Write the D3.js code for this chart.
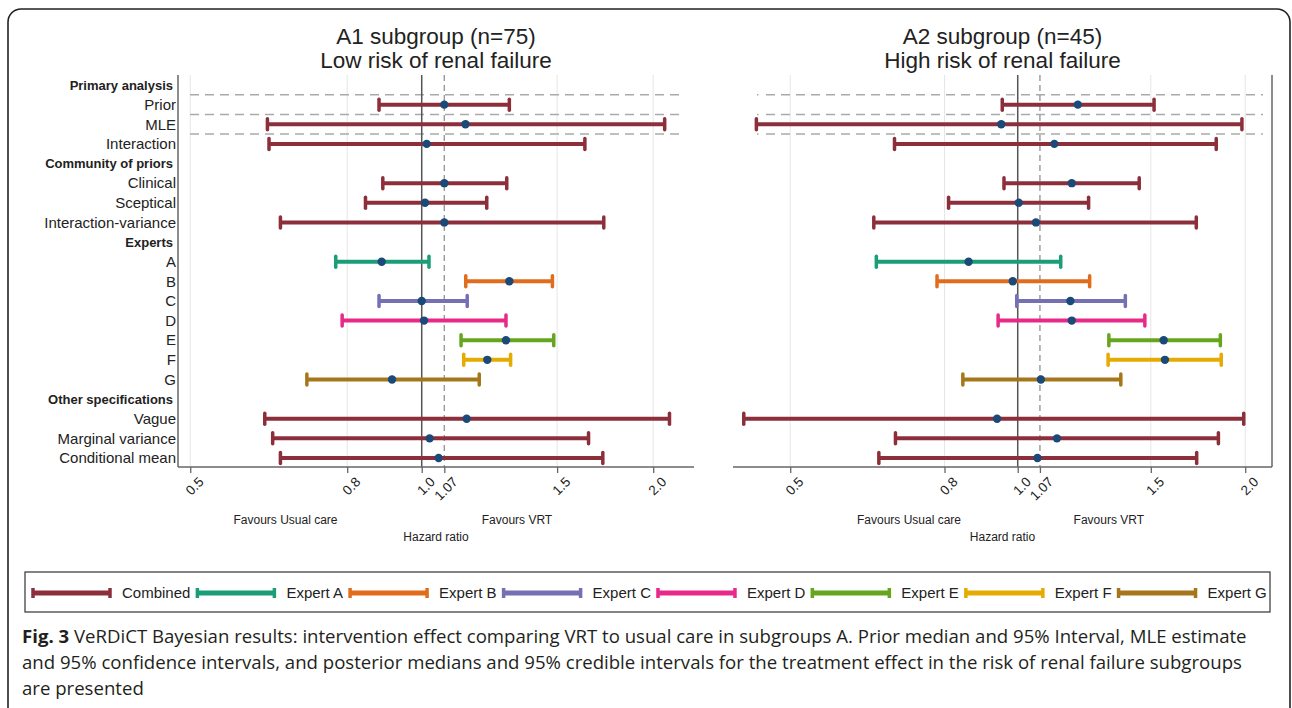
<!DOCTYPE html>
<html>
<head>
<meta charset="utf-8">
<script src="https://cdn.jsdelivr.net/npm/d3@7"></script>
<style>
  body { margin: 0; background: #fff; }
  svg text { font-family: 'Liberation Sans', Arial, sans-serif; fill: #222; }
</style>
</head>
<body>
<svg id="chart" width="1292" height="708"></svg>
<script>
// rows of the forest plot (headers are bold and carry no interval)
var rowLabels = ['Primary analysis', 'Prior', 'MLE', 'Interaction',
  'Community of priors', 'Clinical', 'Sceptical', 'Interaction-variance',
  'Experts', 'A', 'B', 'C', 'D', 'E', 'F', 'G',
  'Other specifications', 'Vague', 'Marginal variance', 'Conditional mean'];
var headerRows = ['Primary analysis', 'Community of priors', 'Experts', 'Other specifications'];

var estRows = ['Prior', 'MLE', 'Interaction', 'Clinical', 'Sceptical', 'Interaction-variance',
  'A', 'B', 'C', 'D', 'E', 'F', 'G', 'Vague', 'Marginal variance', 'Conditional mean'];
var estSeries = ['Combined', 'Combined', 'Combined', 'Combined', 'Combined', 'Combined',
  'Expert A', 'Expert B', 'Expert C', 'Expert D', 'Expert E', 'Expert F', 'Expert G',
  'Combined', 'Combined', 'Combined'];

// A1 subgroup (low risk) hazard ratios
var a1Lower  = [0.88, 0.63, 0.633, 0.89, 0.845, 0.655, 0.773, 1.141, 0.88, 0.788, 1.125, 1.134, 0.709, 0.625, 0.64, 0.655];
var a1Median = [1.07, 1.14, 1.015, 1.07, 1.01, 1.07, 0.887, 1.30, 1.00, 1.007, 1.287, 1.217, 0.915, 1.144, 1.024, 1.052];
var a1Upper  = [1.30, 2.07, 1.63, 1.29, 1.215, 1.725, 1.022, 1.479, 1.146, 1.287, 1.485, 1.305, 1.188, 2.10, 1.648, 1.72];

// A2 subgroup (high risk) hazard ratios
var a2Lower  = [0.954, 0.451, 0.687, 0.959, 0.81, 0.645, 0.65, 0.782, 0.997, 0.942, 1.32, 1.317, 0.846, 0.434, 0.689, 0.655];
var a2Median = [1.201, 0.951, 1.118, 1.179, 1.003, 1.057, 0.861, 0.985, 1.174, 1.179, 1.56, 1.566, 1.073, 0.939, 1.127, 1.062];
var a2Upper  = [1.515, 1.98, 1.831, 1.448, 1.241, 1.723, 1.14, 1.245, 1.388, 1.473, 1.854, 1.859, 1.369, 1.991, 1.843, 1.725];

var legendNames  = ['Combined', 'Expert A', 'Expert B', 'Expert C', 'Expert D', 'Expert E', 'Expert F', 'Expert G'];
var legendColors = ['#8c2f3b', '#1b9e77', '#e06c1c', '#7570b3', '#e7298a', '#66a61e', '#e6ab02', '#a6761d'];

var tickValues = [0.5, 0.8, 1.0, 1.07, 1.5, 2.0];
var tickLabels = ['0.5', '0.8', '1.0', '1.07', '1.5', '2.0'];
var gridValues = [0.5, 0.8, 1.5, 2.0];
var nullValue = 1.0, priorRef = 1.07;

var svg = d3.select('#chart');
var color = d3.scaleOrdinal().domain(legendNames).range(legendColors);

var plotTop = 75, plotBottom = 467;
var y = d3.scalePoint().domain(rowLabels).range([85, 458]);

// outer frame of the figure
svg.append('rect')
  .attr('x', 8).attr('y', 9)
  .attr('width', 1282).attr('height', 720)
  .attr('rx', 13)
  .style('fill', 'none').style('stroke', '#222').style('stroke-width', 1.6);

var panels = [
  { title: ['A1 subgroup (n=75)', 'Low risk of renal failure'], domain: [0.482, 2.26], range: [178, 694],
    lo: a1Lower, mid: a1Median, hi: a1Upper, favours: [0.665, 1.33], dashX: [190, 684], side: 'left' },
  { title: ['A2 subgroup (n=45)', 'High risk of renal failure'], domain: [0.42, 2.17], range: [733, 1272],
    lo: a2Lower, mid: a2Median, hi: a2Upper, favours: [0.718, 1.32], dashX: [757, 1263], side: 'right' }
];

panels.forEach(function(p) {
  var x = d3.scaleLog().domain(p.domain).range(p.range);
  var g = svg.append('g');
  var cx = (p.range[0] + p.range[1]) / 2;

  // titles
  g.selectAll('.title')
    .data(p.title)
    .enter().append('text')
      .attr('x', cx)
      .attr('y', function(d, i) { return 44 + i * 24; })
      .attr('text-anchor', 'middle')
      .style('font-size', '22.5px')
      .text(function(d) { return d; });

  // light vertical grid
  g.selectAll('.grid')
    .data(gridValues)
    .enter().append('line')
      .attr('x1', function(d) { return x(d); })
      .attr('x2', function(d) { return x(d); })
      .attr('y1', plotTop).attr('y2', plotBottom)
      .style('stroke', '#e6e6e6').style('stroke-width', 1);

  // dashed separators in the primary analysis block
  var seps = [y('Primary analysis'), y('Prior'), y('MLE')].map(function(v) { return v + y.step() / 2; });
  var dashStart = p.side == 'right' ? p.dashX[0] + 9 : p.dashX[0];
  g.selectAll('.sep')
    .data(seps)
    .enter().append('line')
      .attr('x1', dashStart).attr('x2', p.dashX[1])
      .attr('y1', function(d) { return d; })
      .attr('y2', function(d) { return d; })
      .style('stroke', '#aaa').style('stroke-width', 1.5)
      .style('stroke-dasharray', '9,6');
  if (p.side == 'right') {
    // the little dot that starts each separator on the right panel
    g.selectAll('.sepdot')
      .data(seps)
      .enter().append('line')
        .attr('x1', p.dashX[0]).attr('x2', p.dashX[0] + 1.5)
        .attr('y1', function(d) { return d; })
        .attr('y2', function(d) { return d; })
        .style('stroke', '#aaa').style('stroke-width', 1.5);
  }

  // reference lines: null effect and prior median
  g.append('line')
    .attr('x1', x(nullValue)).attr('x2', x(nullValue))
    .attr('y1', plotTop).attr('y2', plotBottom)
    .style('stroke', '#555').style('stroke-width', 1.5);
  g.append('line')
    .attr('x1', x(priorRef)).attr('x2', x(priorRef))
    .attr('y1', plotTop).attr('y2', plotBottom)
    .style('stroke', '#999').style('stroke-width', 1.4)
    .style('stroke-dasharray', '6,4');

  // intervals
  var rows = estRows.map(function(r, i) {
    return { row: r, series: estSeries[i], lo: p.lo[i], mid: p.mid[i], hi: p.hi[i] };
  });
  var iv = g.selectAll('.iv')
    .data(rows)
    .enter().append('g');
  iv.append('line')
    .attr('x1', function(d) { return x(d.lo); })
    .attr('x2', function(d) { return x(d.hi); })
    .attr('y1', function(d) { return y(d.row); })
    .attr('y2', function(d) { return y(d.row); })
    .style('stroke', function(d) { return color(d.series); })
    .style('stroke-width', 4);
  ['lo', 'hi'].forEach(function(k) {
    iv.append('line')
      .attr('x1', function(d) { return x(d[k]); })
      .attr('x2', function(d) { return x(d[k]); })
      .attr('y1', function(d) { return y(d.row) - 5.5; })
      .attr('y2', function(d) { return y(d.row) + 5.5; })
      .style('stroke', function(d) { return color(d.series); })
      .style('stroke-width', 3.5)
      .style('stroke-linecap', 'round');
  });
  iv.append('circle')
    .attr('cx', function(d) { return x(d.mid); })
    .attr('cy', function(d) { return y(d.row); })
    .attr('r', 4.2)
    .style('fill', '#1b4a78');

  // x axis
  var xAxis = d3.axisBottom(x)
    .tickValues(tickValues)
    .tickFormat(function(d, i) { return tickLabels[i]; })
    .tickSize(6);
  var ax = g.append('g')
    .attr('transform', 'translate(0,' + plotBottom + ')')
    .call(xAxis);
  ax.select('.domain').attr('d', 'M' + p.range[0] + ',0H' + p.range[1])
    .style('stroke', '#666').style('stroke-width', 1.5);
  ax.selectAll('.tick line').style('stroke', '#666').style('stroke-width', 1.3);
  ax.selectAll('.tick text')
    .attr('text-anchor', 'end')
    .attr('transform', 'translate(4,6) rotate(-45)')
    .attr('dy', '0.35em')
    .attr('x', 0).attr('y', 9)
    .style('font-size', '13.5px')
    .style('font-family', "'Liberation Sans', Arial, sans-serif")
    .style('fill', '#222');

  // side axis line
  var sx = p.side == 'left' ? p.range[0] : p.range[1];
  g.append('line')
    .attr('x1', sx).attr('x2', sx)
    .attr('y1', plotTop).attr('y2', plotBottom)
    .style('stroke', '#666').style('stroke-width', 1.5);

  // favours / axis titles
  g.append('text').attr('x', x(p.favours[0])).attr('y', 524)
    .attr('text-anchor', 'middle').style('font-size', '12px').text('Favours Usual care');
  g.append('text').attr('x', x(p.favours[1])).attr('y', 524)
    .attr('text-anchor', 'middle').style('font-size', '12px').text('Favours VRT');
  g.append('text').attr('x', cx).attr('y', 541)
    .attr('text-anchor', 'middle').style('font-size', '12px').text('Hazard ratio');
});

// row labels
svg.selectAll('.rowlab')
  .data(rowLabels)
  .enter().append('text')
    .attr('x', function(d) { return headerRows.indexOf(d) >= 0 ? 173 : 176; })
    .attr('y', function(d) { return y(d); })
    .attr('dy', '0.35em')
    .attr('text-anchor', 'end')
    .style('font-size', function(d) { return headerRows.indexOf(d) >= 0 ? '13px' : '15px'; })
    .style('font-weight', function(d) { return headerRows.indexOf(d) >= 0 ? 'bold' : 'normal'; })
    .text(function(d) { return d; });

// legend, laid out left to right like the stata key
svg.append('rect')
  .attr('x', 25).attr('y', 572).attr('width', 1245).attr('height', 40)
  .style('fill', 'none').style('stroke', '#333').style('stroke-width', 1.2);
var lxPos = 33;
legendNames.forEach(function(name) {
  var lg = svg.append('g').attr('transform', 'translate(' + lxPos + ',593)');
  lg.append('line')
    .attr('x1', 0).attr('x2', 77).attr('y1', 0).attr('y2', 0)
    .style('stroke', color(name)).style('stroke-width', 5);
  [0, 77].forEach(function(c) {
    lg.append('line')
      .attr('x1', c).attr('x2', c).attr('y1', -5).attr('y2', 5)
      .style('stroke', color(name)).style('stroke-width', 3.5);
  });
  var t = lg.append('text')
    .attr('x', 89).attr('dy', '0.35em')
    .style('font-size', '15px')
    .text(name);
  lxPos += 89 + t.node().getComputedTextLength() + 7;
});

// caption
var caption = [
  [['Fig. 3', true], [' VeRDiCT Bayesian results: intervention effect comparing VRT to usual care in subgroups A. Prior median and 95% Interval, MLE estimate', false]],
  [['and 95% confidence intervals, and posterior medians and 95% credible intervals for the treatment effect in the risk of renal failure subgroups', false]],
  [['are presented', false]]
];
caption.forEach(function(line, i) {
  var t = svg.append('text')
    .attr('x', 22).attr('y', 643 + i * 26)
    .style('font-size', '18.6px')
    .style('font-family', "'Open Sans', sans-serif");
  line.forEach(function(seg) {
    t.append('tspan')
      .style('font-weight', seg[1] ? 'bold' : 'normal')
      .style('fill', '#231f20')
      .text(seg[0]);
  });
});
</script>
</body>
</html>
